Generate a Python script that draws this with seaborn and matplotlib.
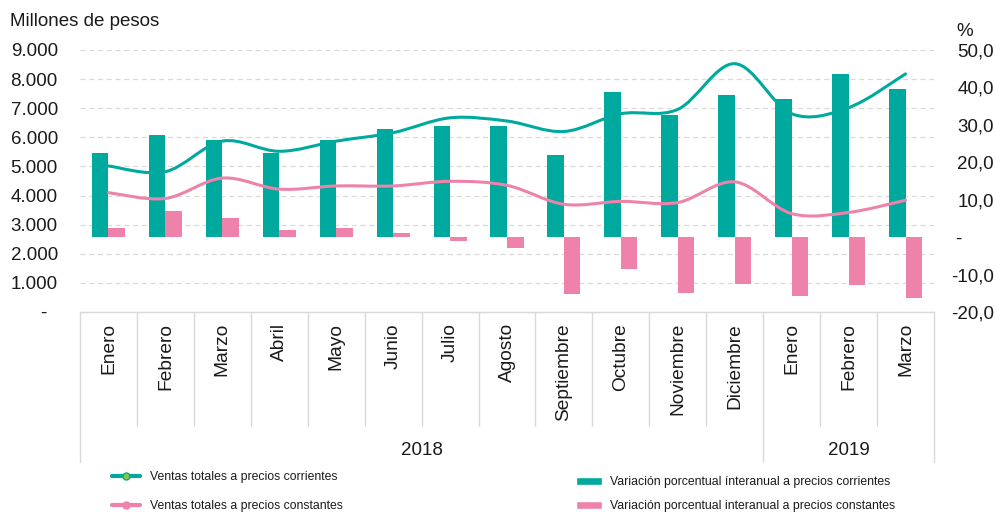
import numpy as np
import pandas as pd
import matplotlib
matplotlib.use("Agg")
import matplotlib.pyplot as plt
import matplotlib.transforms as mtransforms
from matplotlib.path import Path
from matplotlib.patches import PathPatch, Patch
from matplotlib.lines import Line2D
import seaborn as sns

# datos
months = ["Enero", "Febrero", "Marzo", "Abril", "Mayo", "Junio", "Julio", "Agosto",
          "Septiembre", "Octubre", "Noviembre", "Diciembre", "Enero", "Febrero", "Marzo"]
years = ["2018"] * 12 + ["2019"] * 3
ventas_corrientes = [5015, 4820, 5870, 5520, 5870, 6160, 6670, 6560, 6200, 6810, 6960, 8530, 6810, 7020, 8180]
ventas_constantes = [4100, 3900, 4600, 4220, 4330, 4330, 4490, 4350, 3700, 3800, 3760, 4470, 3380, 3420, 3840]
var_corrientes = [22.6, 27.3, 25.9, 22.6, 25.9, 28.9, 29.6, 29.6, 22.0, 38.7, 32.6, 37.9, 36.9, 43.5, 39.5]
var_constantes = [2.5, 6.9, 5.0, 1.8, 2.5, 1.0, -1.0, -2.9, -15.3, -8.4, -14.8, -12.6, -15.6, -12.8, -16.3]

left_ticks = list(range(0, 9001, 1000))
left_labels = ["-  "] + [f"{v:,}".replace(",", ".") for v in left_ticks[1:]]
right_ticks = [-20, -10, 0, 10, 20, 30, 40, 50]
right_labels = ["-20,0", "-10,0", "-      ", "10,0", "20,0", "30,0", "40,0", "50,0"]

lab_corr = "Ventas totales a precios corrientes"
lab_const = "Ventas totales a precios constantes"
lab_vcorr = "Variación porcentual ínteranual a precios corrientes"
lab_vconst = "Variación porcentual interanual a precios constantes"

TEAL = "#00A99D"
PINK = "#EE82AB"
GRID = "#d9d9d9"
TXT = "#1a1a1a"

sns.set_style("white")
plt.rcParams["font.family"] = ["Liberation Sans", "DejaVu Sans"]

keys = [f"{y}-{m}" for y, m in zip(years, months)]
df = pd.DataFrame({
    "periodo": keys * 2,
    "serie": [lab_vcorr] * len(keys) + [lab_vconst] * len(keys),
    "valor": var_corrientes + var_constantes,
})


def smooth_path(xs, ys):
    # curva suavizada tipo Excel (Catmull-Rom -> Bezier)
    pts = np.column_stack([xs, ys]).astype(float)
    ext = np.vstack([pts[0], pts, pts[-1]])
    verts = [pts[0]]
    codes = [Path.MOVETO]
    for i in range(len(pts) - 1):
        p0, p1, p2, p3 = ext[i], ext[i + 1], ext[i + 2], ext[i + 3]
        verts += [p1 + (p2 - p0) / 6, p2 - (p3 - p1) / 6, p2]
        codes += [Path.CURVE4] * 3
    return Path(verts, codes)


fig = plt.figure(figsize=(9.96, 5.12), dpi=100)
ax = fig.add_axes([80 / 996, 200 / 512, 854 / 996, 262 / 512])
ax2 = ax.twinx()
ax3 = ax.twinx()

# barras (eje derecha, %)
sns.barplot(data=df, x="periodo", y="valor", hue="serie", order=keys,
            hue_order=[lab_vcorr, lab_vconst], palette=[TEAL, PINK],
            width=0.58, saturation=1, linewidth=0, legend=False, ax=ax2)
ax2.set_xlim(-0.5, len(keys) - 0.5)
ax2.set_ylim(-20, 50)
ax2.set_yticks(right_ticks, labels=right_labels)
ax2.tick_params(axis="y", length=0, pad=43, labelsize=13.5, colors=TXT)
plt.setp(ax2.get_yticklabels(), ha="right")
ax2.set_xlabel("")
ax2.set_ylabel("")

# eje izquierda con la grilla
ax.set_ylim(0, 9000)
ax.set_yticks(left_ticks, labels=left_labels)
ax.tick_params(axis="y", length=0, pad=16, labelsize=13.5, colors=TXT)
ax.tick_params(axis="x", bottom=False, labelbottom=False)
ax.grid(axis="y", color=GRID, linestyle=(0, (4, 3)), linewidth=0.9)
ax.grid(axis="x", visible=False)

# líneas suavizadas (millones de pesos)
ax3.set_ylim(0, 9000)
ax3.yaxis.set_visible(False)
xs = np.arange(len(keys))
for vals, col in [(ventas_corrientes, TEAL), (ventas_constantes, PINK)]:
    ax3.add_patch(PathPatch(smooth_path(xs, vals), facecolor="none", edgecolor=col,
                            linewidth=2.2, capstyle="round"))

for a in (ax, ax2, ax3):
    for s in a.spines.values():
        s.set_visible(False)
ax.spines["bottom"].set_visible(True)
ax.spines["bottom"].set_color(GRID)
ax.spines["bottom"].set_linewidth(1)

# tabla de categorías debajo del eje
trans = mtransforms.blended_transform_factory(ax.transData, ax.transAxes)
for i, m in enumerate(months):
    ax.text(i, -0.042, m, rotation=90, ha="center", va="top", fontsize=13.8,
            color=TXT, transform=trans)
for b in range(len(keys) + 1):
    year_edge = b in (0, len(keys)) or years[b] != years[b - 1]
    ax.plot([b - 0.5, b - 0.5], [0, -0.573 if year_edge else -0.435], color=GRID,
            linewidth=1, transform=trans, clip_on=False)
for y in dict.fromkeys(years):
    idx = [i for i, v in enumerate(years) if v == y]
    ax.text((idx[0] + idx[-1]) / 2, -0.53, y, ha="center", va="center", fontsize=13.5,
            color=TXT, transform=trans)

fig.text(10 / 996, 1 - 22 / 512, "Millones de pesos", fontsize=13.5, va="center", color=TXT)
fig.text(965 / 996, 1 - 31 / 512, "%", fontsize=13.5, ha="center", va="center", color=TXT)

# leyendas
line_handles = [
    Line2D([], [], color=TEAL, linewidth=3, marker="o", markersize=5,
           markerfacecolor="#8CC63F", markeredgecolor=TEAL),
    Line2D([], [], color=PINK, linewidth=3, marker="o", markersize=5,
           markerfacecolor=PINK, markeredgecolor=PINK),
]
fig.legend(line_handles, [lab_corr, lab_const], loc="upper left",
           bbox_to_anchor=(112 / 996, 1 - 471 / 512), frameon=False, fontsize=8.8,
           handlelength=2.3, handletextpad=0.8, labelspacing=1.4, borderpad=0,
           borderaxespad=0, labelcolor=TXT)
bar_handles = [Patch(facecolor=TEAL), Patch(facecolor=PINK)]
fig.legend(bar_handles, [lab_vcorr, lab_vconst], loc="upper left",
           bbox_to_anchor=(576 / 996, 1 - 476 / 512), frameon=False, fontsize=8.8,
           handlelength=2.1, handleheight=0.6, handletextpad=0.72, labelspacing=0.98,
           borderpad=0, borderaxespad=0, labelcolor=TXT)

fig.savefig("out.png", dpi=100)
